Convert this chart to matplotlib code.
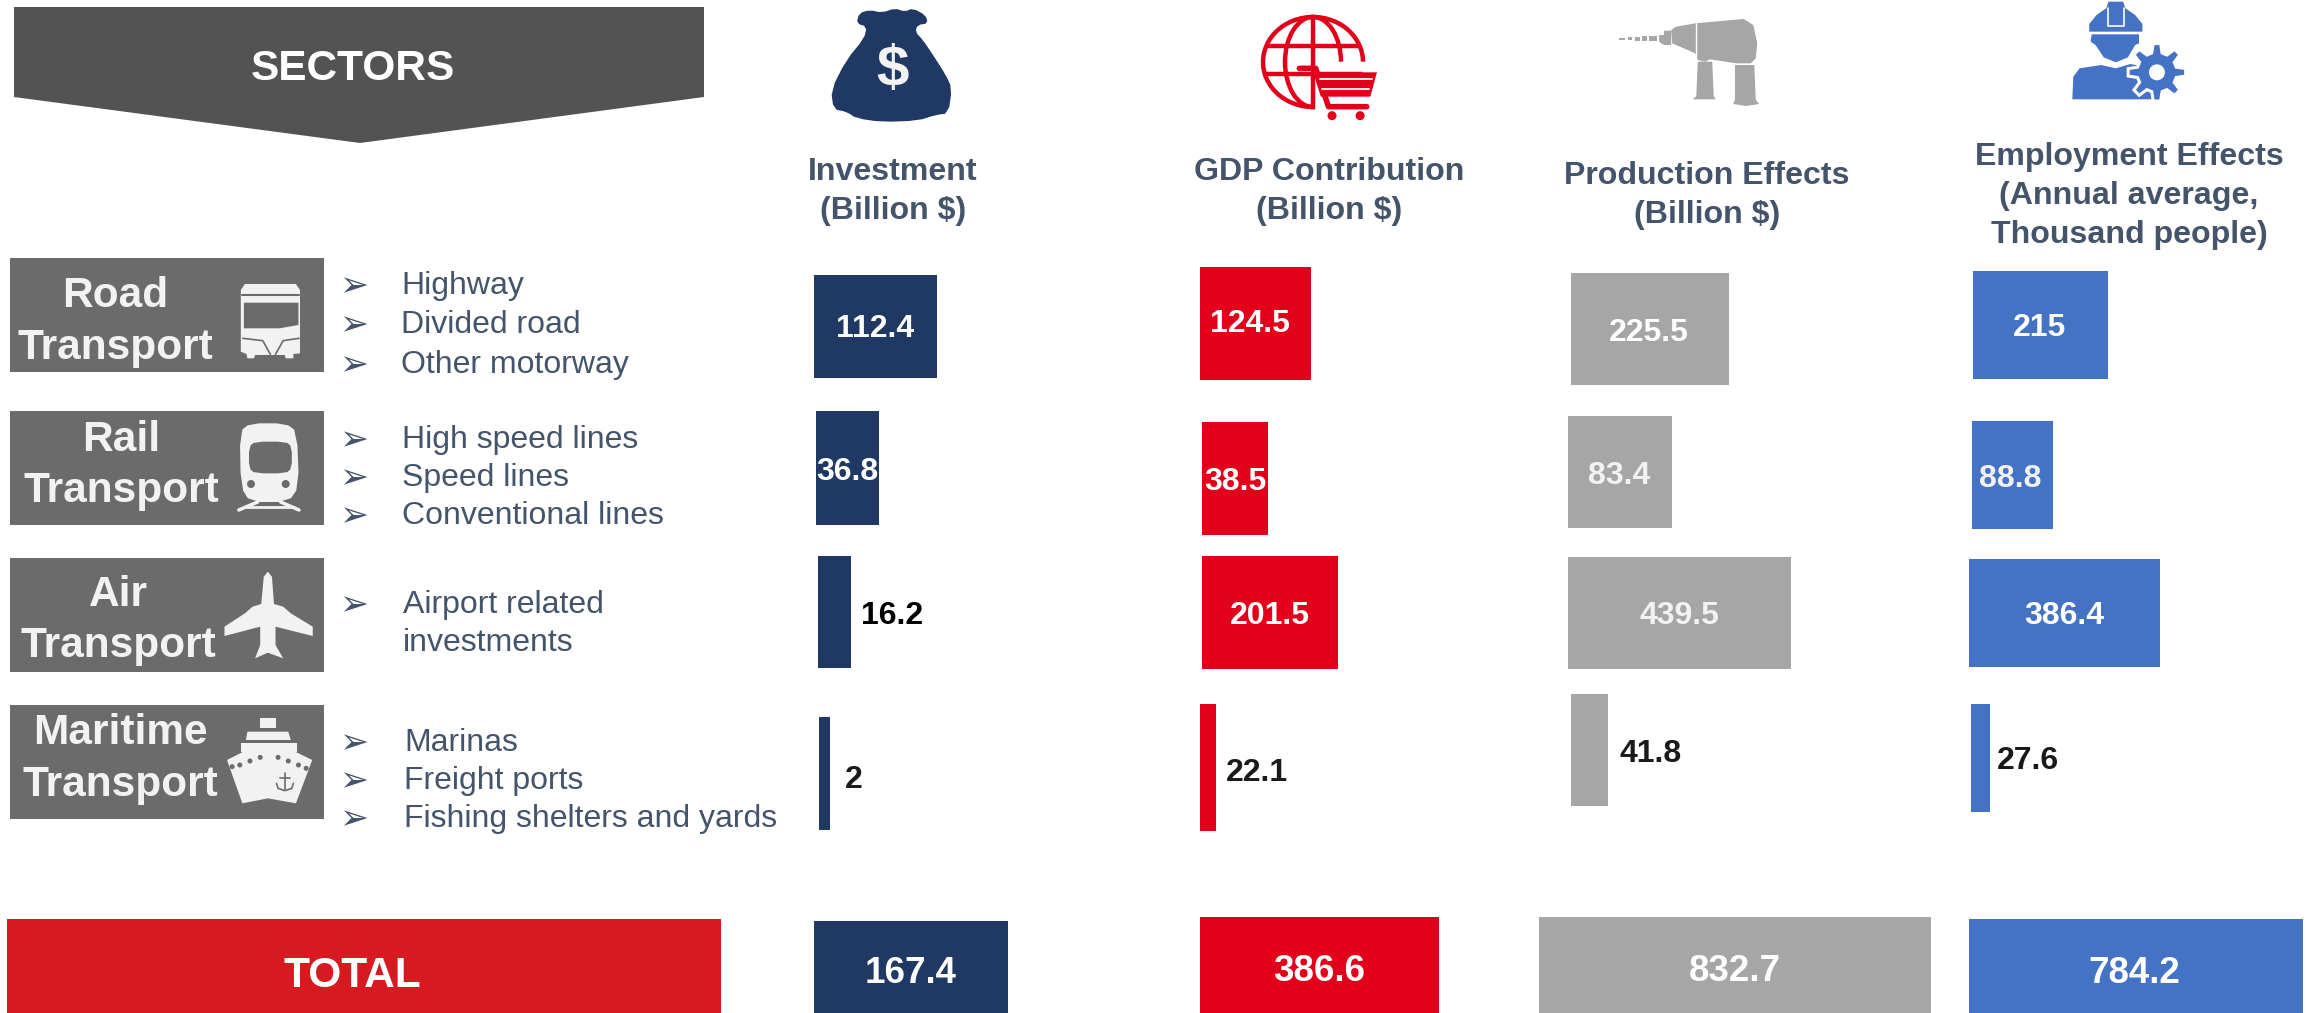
#TRANSPORT SECTOR EFFECTS INFOGRAPHIC
import numpy as np
import matplotlib
matplotlib.use('Agg')
import matplotlib.pyplot as plt
from matplotlib.patches import Polygon, Ellipse, Rectangle
from matplotlib.transforms import Affine2D

plt.rcParams['font.family'] = ['Liberation Sans', 'DejaVu Sans']

W, H = 2318, 1013

# data
sectors = [['Road', 'Transport'], ['Rail', 'Transport'], ['Air', 'Transport'], ['Maritime', 'Transport']]
items = [['Highway', 'Divided road', 'Other motorway'],
         ['High speed lines', 'Speed lines', 'Conventional lines'],
         ['Airport related'],
         ['Marinas', 'Freight ports', 'Fishing shelters and yards']]
extra_line = 'investments'
headers = [['Investment', '(Billion $)'],
           ['GDP Contribution', '(Billion $)'],
           ['Production Effects', '(Billion $)'],
           ['Employment Effects', '(Annual average,', 'Thousand people)']]
investment = [112.4, 36.8, 16.2, 2]
gdp = [124.5, 38.5, 201.5, 22.1]
production = [225.5, 83.4, 439.5, 41.8]
employment = [215, 88.8, 386.4, 27.6]
totals = [167.4, 386.6, 832.7, 784.2]

# layout, all in pixels of the 2318x1013 picture
NAVY, RED, GREY, BLUE = '#1f3864', '#e2001a', '#a6a6a6', '#4472c4'
SLATE = '#44546a'
BOX = '#6b6b6b'
PALE = '#f2f2f2'
DY = 3  # matplotlib centres text a little high of the source

bar_left = [[814, 816, 817.5, 819], [1200, 1202, 1202, 1200], [1571, 1568, 1568, 1571], [1973, 1972, 1969, 1971]]
bar_top = [[275, 411, 556, 717], [267, 422, 556, 704], [273, 416, 557, 694], [271, 421, 559, 704]]
bar_bottom = [[378, 525, 668, 830], [380, 535, 669, 831], [385, 528, 669, 806], [379, 529, 667, 812]]
# the bars of the source are not to a linear scale, each panel gets its own calibrated one
bar_px = [[123, 63, 33.5, 11], [111, 66, 136, 16], [158, 104, 223, 37], [135, 81, 191, 19]]
label_xy = [[(875, 326), (847, 469), (892, 613), (853.5, 777)],
            [(1250, 321), (1235, 479), (1269.5, 613), (1256.5, 770)],
            [(1649, 330), (1619, 473), (1679, 613), (1651, 751)],
            [(2040, 325), (2010, 476), (2064, 613), (2028, 758)]]
label_col = [['white', 'white', 'black', '#1a1a1a'],
             ['white', 'white', 'white', '#1a1a1a'],
             ['white', PALE, PALE, '#1a1a1a'],
             ['white', PALE, 'white', '#1a1a1a']]
total_left = [814, 1200, 1539, 1969]
total_px = [194, 239, 392, 334]
total_top = [921, 917, 917, 919]
total_xy = [(911, 970), (1319, 968), (1735, 968), (2134, 970)]
header_xy = [(893, [169, 208]), (1329, [169, 208]), (1707, [173, 212]), (2129, [154, 193, 232])]
box_y = [(258, 372), (411, 525), (558, 672), (705, 819)]
sector_x = [115, 121, 118, 120]
sector_y = [[293, 345], [437, 488], [592, 643], [730, 782]]
item_x = [401, 402, 403, 404]
item_y = [[283, 322, 362], [437, 475, 513], [602], [740, 778, 816]]

fig = plt.figure(figsize=(W/100, H/100), dpi=100)
fig.patch.set_facecolor('white')


def draw_panel(values, lefts, widths, tops, bottoms, color):
    x0 = min(lefts)
    knots = sorted(zip(values, widths))
    kv = [0] + [k[0] for k in knots]
    kw = [0] + [k[1] for k in knots]
    pan = fig.add_axes([x0/W, 0, max(widths)/W, 1])
    pan.set_xscale('function', functions=(lambda v: np.interp(v, kv, kw),
                                          lambda p: np.interp(p, kw, kv)))
    ys = [(t+b)/2 for t, b in zip(tops, bottoms)]
    hs = [b-t for t, b in zip(tops, bottoms)]
    bars = pan.barh(ys, values, height=hs, color=color, linewidth=0)
    pan.set_xlim(0, max(values))
    pan.set_ylim(H, 0)
    pan.axis('off')
    for b, l in zip(bars, lefts):
        b.set_transform(pan.transData + Affine2D().translate(l-x0, 0))
        b.set_clip_on(False)


colors = [NAVY, RED, GREY, BLUE]
for i, vals in enumerate([investment, gdp, production, employment]):
    draw_panel(vals, bar_left[i], bar_px[i], bar_top[i], bar_bottom[i], colors[i])
    draw_panel([totals[i]], [total_left[i]], [total_px[i]], [total_top[i]], [H], colors[i])

ax = fig.add_axes([0, 0, 1, 1])
ax.set_xlim(0, W)
ax.set_ylim(H, 0)
ax.axis('off')


def conv(pts, crop):
    ox, oy, sx, sy = crop
    return [(ox+x/sx, oy+y/sy) for x, y in pts]


def chaikin(pts, n=2):
    p = np.array(pts, dtype=float)
    for _ in range(n):
        q = np.roll(p, -1, axis=0)
        p = np.column_stack([.75*p+.25*q, .25*p+.75*q]).reshape(-1, 2)
    return p


def shape(pts, crop, color, smooth=0, **kw):
    p = conv(pts, crop)
    if smooth:
        p = chaikin(p, smooth)
    ax.add_patch(Polygon(p, closed=True, facecolor=color, edgecolor='none', **kw))


def stroke(pts, crop, color, lw):
    p = np.array(conv(pts, crop))
    ax.plot(p[:, 0], p[:, 1], color=color, lw=lw, solid_capstyle='round', solid_joinstyle='round')


def dot(x, y, crop, color, r):
    cx, cy = conv([(x, y)], crop)[0]
    ax.add_patch(Ellipse((cx, cy), 2*r, 2*r, facecolor=color, edgecolor='none'))


Z1 = (0, 0, 1.96, 3)
Z2 = (0, 400, 1.96, 3)
Z3 = (780, 0, 1.96, 3)
Z4 = (1560, 0, 2.069, 3)

# sectors banner
ax.add_patch(Polygon([(14, 7), (704, 7), (704, 97), (360, 143), (14, 97)], facecolor='#535353', edgecolor='none'))
ax.text(353, 66+DY, 'SECTORS', color='white', fontsize=30.5, fontweight='bold', ha='center', va='center')

# sector boxes
for i, s in enumerate(sectors):
    ax.add_patch(Rectangle((10, box_y[i][0]), 314, box_y[i][1]-box_y[i][0], facecolor=BOX, edgecolor='none'))
    for word, y in zip(s, sector_y[i]):
        ax.text(sector_x[i], y+DY, word, color=PALE, fontsize=30.5, fontweight='bold', ha='center', va='center')
    for name, y in zip(items[i], item_y[i]):
        ax.text(354, y+DY, '\u27a2', color=SLATE, fontsize=25, ha='center', va='center', family='DejaVu Sans')
        ax.text(item_x[i], y+DY, name, color=SLATE, fontsize=23, ha='left', va='center')
ax.text(item_x[2], 640+DY, extra_line, color=SLATE, fontsize=23, ha='left', va='center')

# bus
shape([(472, 870), (480, 852), (580, 852), (588, 870), (588, 1060), (575, 1062), (575, 1075), (560, 1075),
       (558, 1065), (500, 1065), (498, 1075), (485, 1075), (483, 1062), (472, 1055)], Z1, PALE)
shape([(478, 908), (585, 908), (585, 975), (548, 985), (478, 985)], Z1, BOX)
stroke([(474, 886), (586, 886)], Z1, BOX, 1.5)
stroke([(476, 1015), (515, 1022), (530, 1063)], Z1, BOX, 1.2)
stroke([(586, 1015), (555, 1022), (540, 1063)], Z1, BOX, 1.2)

# train
shape([(470, 95), (490, 70), (560, 70), (582, 95), (586, 260), (565, 306), (490, 306), (472, 260)], Z2, PALE, smooth=1)
shape([(488, 140), (500, 125), (560, 125), (572, 140), (572, 205), (560, 220), (500, 220), (488, 205)], Z2, BOX, smooth=1)
dot(492, 252, Z2, BOX, 4)
dot(560, 252, Z2, BOX, 4)
stroke([(468, 330), (505, 306)], Z2, PALE, 2.5)
stroke([(586, 330), (550, 306)], Z2, PALE, 2.5)
stroke([(478, 322), (576, 322)], Z2, PALE, 2)

# plane
shape([(525, 515), (533, 530), (537, 612), (555, 620), (570, 640), (613, 680), (613, 708), (540, 680), (540, 735),
       (555, 775), (525, 758), (500, 775), (510, 735), (510, 680), (440, 708), (440, 680), (480, 640), (495, 620),
       (512, 612), (517, 530)], Z2, PALE)

# ship
shape([(510, 955), (540, 955), (540, 985), (510, 985)], Z2, PALE)
shape([(485, 995), (565, 995), (570, 1020), (482, 1020)], Z2, PALE)
shape([(472, 1028), (582, 1028), (582, 1055), (472, 1055)], Z2, PALE)
stroke([(475, 1024), (578, 1024)], Z2, BOX, 1)
shape([(445, 1080), (490, 1045), (525, 1030), (565, 1045), (612, 1080), (580, 1210), (525, 1195), (475, 1210)], Z2, PALE)
for x, y in [(455, 1100), (470, 1095), (490, 1083), (510, 1072), (545, 1072), (565, 1083), (585, 1095), (600, 1105)]:
    dot(x, y, Z2, BOX, 2.5)
stroke([(558, 1120), (558, 1170)], Z2, BOX, 1.2)
stroke([(542, 1150), (545, 1165), (558, 1172), (572, 1165), (575, 1150)], Z2, BOX, 1.2)
stroke([(548, 1133), (568, 1133)], Z2, BOX, 1.2)

# money bag
shape([(150, 70), (155, 40), (175, 30), (200, 38), (225, 25), (245, 35), (260, 25), (285, 45), (290, 70), (270, 75),
       (265, 95), (280, 120), (300, 165), (325, 225), (337, 265), (330, 340), (305, 345), (270, 362), (200, 366),
       (150, 355), (130, 335), (105, 328), (100, 270), (130, 180), (165, 115), (170, 80)], Z3, NAVY, smooth=1)
ax.text(893, 71, '$', color=PALE, fontsize=42, fontweight='bold', ha='center', va='center')

# globe with cart
lw_g = 3.2
cx, cy = 1313, 62
for w in [100, 56]:
    ax.add_patch(Ellipse((cx, cy), w, 90, facecolor='none', edgecolor=RED, lw=lw_g))
ax.plot([cx, cx], [cy-45, cy+45], color=RED, lw=lw_g)
ax.plot([cx-44, cx+44], [46, 46], color=RED, lw=lw_g)
ax.plot([cx-47, cx+47], [74, 74], color=RED, lw=lw_g)
shape([(1050, 185), (1150, 185), (1190, 205), (1180, 365), (1060, 365), (1040, 300)], Z3, 'white')
stroke([(1018, 205), (1050, 205), (1075, 320), (1150, 320)], Z3, RED, 4)
shape([(1045, 217), (1170, 217), (1157, 290), (1060, 290)], Z3, RED)
stroke([(1058, 238), (1160, 238)], Z3, 'white', 1.3)
stroke([(1062, 266), (1155, 266)], Z3, 'white', 1.3)
dot(1082, 347, Z3, RED, 4.5)
dot(1137, 347, Z3, RED, 4.5)

# drill
shape([(230, 90), (240, 80), (280, 70), (380, 57), (400, 75), (408, 130), (405, 175), (395, 190), (365, 190),
       (310, 178), (300, 185), (285, 180), (280, 160), (232, 130)], Z4, GREY)
stroke([(282, 70), (282, 172)], Z4, 'white', 1)
shape([(205, 105), (215, 105), (215, 92), (230, 92), (230, 135), (215, 135), (205, 125)], Z4, GREY)
for x0, x1, t in [(122, 135, 3), (140, 150, 5), (155, 165, 6), (170, 180, 7), (185, 200, 8)]:
    shape([(x0, 116-t), (x1, 116-t), (x1, 116+t), (x0, 116+t)], Z4, GREY)
shape([(285, 185), (315, 185), (318, 288), (322, 298), (275, 298), (282, 288)], Z4, GREY)
shape([(362, 195), (402, 195), (405, 300), (412, 312), (385, 318), (358, 312), (362, 300)], Z4, GREY)

# worker and gear
shape([(1095, 72), (1110, 45), (1130, 25), (1135, 5), (1165, 5), (1170, 25), (1190, 45), (1205, 72), (1205, 95), (1095, 95)], Z4, BLUE)
stroke([(1133, 25), (1133, 78), (1167, 78), (1167, 25)], Z4, 'white', 1.2)
shape([(1100, 103), (1198, 103), (1198, 130), (1190, 135), (1175, 172), (1150, 187), (1125, 172), (1108, 135), (1098, 125)], Z4, BLUE)
shape([(1060, 298), (1062, 230), (1075, 205), (1120, 195), (1150, 205), (1180, 192), (1225, 205), (1225, 298)], Z4, BLUE)
gx, gy = conv([(1235, 217)], Z4)[0]
ang = np.linspace(0, 2*np.pi, 9)[:-1]
gear = []
for a in ang:
    for da, r in [(-.26, 20), (-.13, 29), (.13, 29), (.26, 20)]:
        gear.append((gx+r*np.cos(a+da), gy+r*np.sin(a+da)))
ax.add_patch(Polygon(gear, closed=True, facecolor=BLUE, edgecolor='white', lw=2.2, zorder=3))
ax.add_patch(Ellipse((gx, gy), 16, 16, facecolor='white', edgecolor='none', zorder=4))

# column headers
for (x, ys), lines in zip(header_xy, headers):
    for y, line in zip(ys, lines):
        ax.text(x, y+DY, line, color=SLATE, fontsize=23.1, fontweight='bold', ha='center', va='center')

# value labels
for i, vals in enumerate([investment, gdp, production, employment]):
    for v, (x, y), c in zip(vals, label_xy[i], label_col[i]):
        ax.text(x, y+DY, f'{v:g}', color=c, fontsize=23, fontweight='bold', ha='center', va='center')

# total row
ax.add_patch(Rectangle((7, 919), 714, H-919, facecolor='#d71920', edgecolor='none'))
ax.text(352, 973+DY, 'TOTAL', color='white', fontsize=30.5, fontweight='bold', ha='center', va='center')
for v, (x, y) in zip(totals, total_xy):
    ax.text(x, y+DY, f'{v:g}', color='white', fontsize=26.5, fontweight='bold', ha='center', va='center')

fig.savefig('out.png', dpi=100, facecolor='white')
